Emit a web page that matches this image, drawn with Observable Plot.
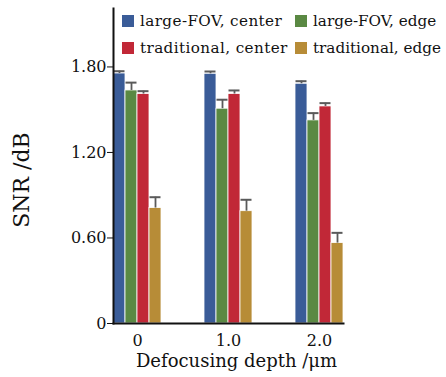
<!DOCTYPE html>
<html>
<head>
<meta charset="utf-8">
<script src="https://cdn.jsdelivr.net/npm/d3@7"></script>
<script src="https://cdn.jsdelivr.net/npm/@observablehq/plot@0.6"></script>
<style>
  html, body { margin: 0; padding: 0; background: #fff; }
  #wrap { position: relative; width: 446px; height: 377px; font-family: "DejaVu Serif", serif; }
  #wrap svg text { font-family: "DejaVu Serif", serif; }
  #legend { position: absolute; left: 0; top: 0; width: 446px; height: 60px; pointer-events: none; }
  .item { position: absolute; display: flex; align-items: center; font-family: "DejaVu Serif", serif; font-size: 15.2px; color: #111; white-space: nowrap; height: 20px; }
  .item.c1 { letter-spacing: 0.4px; }
  .sw { width: 12px; height: 12px; margin-right: 6px; display: inline-block; }
</style>
</head>
<body>
<div id="wrap"><div id="legend"></div></div>
<script>
const groups = ["0", "1.0", "2.0"];
const series = ["large-FOV, center", "large-FOV, edge", "traditional, center", "traditional, edge"];
const colors = ["#3a5c98", "#5a8943", "#c12837", "#b78c37"];
const largeCenter = [1.754, 1.752, 1.682];
const largeEdge = [1.635, 1.507, 1.425];
const tradCenter = [1.610, 1.610, 1.523];
const tradEdge = [0.810, 0.788, 0.564];
const errLargeCenter = [0.016, 0.016, 0.018];
const errLargeEdge = [0.055, 0.063, 0.051];
const errTradCenter = [0.020, 0.025, 0.023];
const errTradEdge = [0.076, 0.080, 0.072];
const yTicks = [0, 0.6, 1.2, 1.8];

const values = [largeCenter, largeEdge, tradCenter, tradEdge];
const errors = [errLargeCenter, errLargeEdge, errTradCenter, errTradEdge];
const data = [];
groups.forEach((g, gi) => series.forEach((s, si) => {
  data.push({group: g, series: s, value: values[si][gi], err: errors[si][gi]});
}));

const font = '"DejaVu Serif", serif';
const chart = Plot.plot({
  width: 446,
  height: 377,
  marginLeft: 91,
  marginRight: 81,
  marginTop: 8,
  marginBottom: 54,
  style: {fontFamily: font, fontSize: "16px", color: "#111", background: "transparent"},
  fx: {domain: groups, paddingInner: 0.474, paddingOuter: 0.237, label: null},
  x: {domain: series, padding: 0, axis: null},
  y: {domain: [0, 2.21], ticks: yTicks},
  color: {domain: series, range: colors},
  marks: [
    Plot.barY(data, {fx: "group", x: "series", y: "value", fill: "series", stroke: "white", strokeWidth: 0.8}),
    Plot.ruleX(data, {fx: "group", x: "series", y1: "value", y2: d => d.value + d.err, stroke: "#5a5a5a", strokeWidth: 1.8}),
    Plot.tickY(data, {fx: "group", x: "series", y: d => d.value + d.err, stroke: "#5a5a5a", strokeWidth: 2, insetLeft: 0.5, insetRight: 0.5}),
    Plot.axisY({ticks: yTicks, tickFormat: d => d === 0 ? "0" : d.toFixed(2), tickSize: 6, tickPadding: 1, tickStrokeWidth: 2, fontSize: 16, label: null}),
    Plot.axisFx({anchor: "bottom", tickSize: 0, tickPadding: 11, fontSize: 16, label: null}),
    Plot.frame({anchor: "left", stroke: "#111", strokeWidth: 2, facet: "super"}),
    Plot.frame({anchor: "bottom", stroke: "#111", strokeWidth: 2, facet: "super"}),
    Plot.text(["SNR /dB"], {frameAnchor: "left", textAnchor: "middle", dx: -92, dy: 14, rotate: -90, fontSize: 22, facet: "super", fill: "#111"}),
    Plot.text(["Defocusing depth /μm"], {frameAnchor: "bottom", dx: 8, dy: 43, fontSize: 18, facet: "super", fill: "#111"})
  ]
});
document.getElementById("wrap").prepend(chart);

const legend = document.getElementById("legend");
const pos = [[122, 11], [295, 11], [122, 37.5], [295, 37.5]];
series.forEach((s, i) => {
  const it = document.createElement("div");
  it.className = "item" + (i % 2 === 0 ? " c1" : "");
  it.style.left = pos[i][0] + "px";
  it.style.top = pos[i][1] + "px";
  it.innerHTML = `<span class="sw" style="background:${colors[i]}"></span>${s}`;
  legend.appendChild(it);
});
</script>
</body>
</html>
